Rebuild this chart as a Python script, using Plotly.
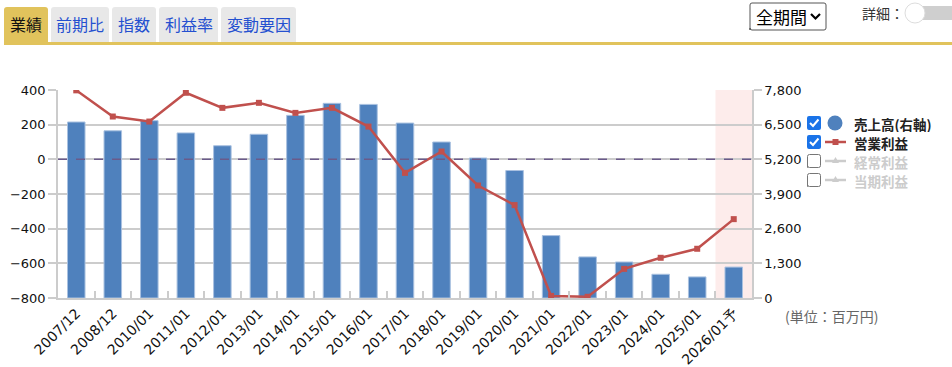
import plotly.graph_objects as go

categories = ["2007/12", "2008/12", "2010/01", "2011/01", "2012/01", "2013/01", "2014/01",
              "2015/01", "2016/01", "2017/01", "2018/01", "2019/01", "2020/01", "2021/01",
              "2022/01", "2023/01", "2024/01", "2025/01", "2026/01予"]
sales = [6600, 6270, 6650, 6190, 5710, 6140, 6850, 7300, 7260, 6560, 5850, 5250, 4780,
         2340, 1540, 1350, 890, 790, 1160]
op_profit = [398, 247, 218, 384, 297, 326, 268, 297, 189, -78, 45, -151, -264, -788,
             -793, -632, -568, -516, -345]
left_ticks = [-800, -600, -400, -200, 0, 200, 400]
right_ticks = [0, 1300, 2600, 3900, 5200, 6500, 7800]
tabs = ["業績", "前期比", "指数", "利益率", "変動要因"]
legend_items = ["売上高(右軸)", "営業利益", "経常利益", "当期利益"]

W, H = 952, 367
PL, PR, PT, PB = 58, 752, 90, 298


def px(x):
    return (x - PL) / (PR - PL)


def py(y):
    return (PB - y) / (PB - PT)


BLUE = "#4f81bd"
RED = "#c0504d"
GRID = "#cccccc"
FONT = "DejaVu Sans"
JP = "Noto Sans CJK JP"

fig = go.Figure()
fig.add_trace(go.Bar(x=categories, y=sales, yaxis="y", width=0.48,
                     marker=dict(color=BLUE, line=dict(color="#a9c1e0", width=1)),
                     showlegend=False, hoverinfo="skip"))
fig.add_trace(go.Scatter(x=categories, y=op_profit, yaxis="y2", mode="lines+markers",
                         line=dict(color=RED, width=2.5),
                         marker=dict(symbol="square", size=6, color=RED),
                         showlegend=False, hoverinfo="skip"))

shapes = []
annotations = []

# forecast shading
shapes.append(dict(type="rect", xref="x", yref="paper", x0=len(categories) - 1.5,
                   x1=len(categories) - 0.5, y0=0, y1=1, fillcolor="#fdeceb",
                   line=dict(width=0), layer="below"))
# zero dashed line
shapes.append(dict(type="line", xref="paper", yref="y2", x0=0, x1=1, y0=0, y1=0,
                   line=dict(color="#6a5a8a", width=1.5, dash="dash"), layer="above"))


def rpath(x0, y0, x1, y1, r=3, top_only=True):
    p = f"M {px(x0)},{py(y1)} L {px(x0)},{py(y0 + r)} Q {px(x0)},{py(y0)} {px(x0 + r)},{py(y0)} " \
        f"L {px(x1 - r)},{py(y0)} Q {px(x1)},{py(y0)} {px(x1)},{py(y0 + r)} "
    if top_only:
        p += f"L {px(x1)},{py(y1)} Z"
    else:
        p += f"L {px(x1)},{py(y1 - r)} Q {px(x1)},{py(y1)} {px(x1 - r)},{py(y1)} " \
             f"L {px(x0 + r)},{py(y1)} Q {px(x0)},{py(y1)} {px(x0)},{py(y1 - r)} Z"
    return p


# tabs
tab_pos = [(4, 48), (51, 109), (112, 156), (159, 218), (221, 296)]
for i, (t, (a, b)) in enumerate(zip(tabs, tab_pos)):
    sel = i == 0
    shapes.append(dict(type="path", xref="paper", yref="paper", path=rpath(a, 7, b, 43, 3),
                       fillcolor="#e1c35c" if sel else "#e8e8e8", line=dict(width=0)))
    annotations.append(dict(xref="paper", yref="paper", x=px((a + b) / 2), y=py(24),
                            text=t, showarrow=False, xanchor="center", yanchor="middle",
                            font=dict(family=JP, size=16, color="#111111" if sel else "#2450d0")))
# gold underline
shapes.append(dict(type="rect", xref="paper", yref="paper", x0=px(4), x1=px(952),
                   y0=py(45), y1=py(42), fillcolor="#e1c35c", line=dict(width=0)))

# select box
shapes.append(dict(type="path", xref="paper", yref="paper", path=rpath(750, 3, 826, 30, 2, False),
                   fillcolor="white", line=dict(color="#555555", width=1)))
annotations.append(dict(xref="paper", yref="paper", x=px(754), y=py(17), text="全期間",
                        showarrow=False, xanchor="left", yanchor="middle",
                        font=dict(family=JP, size=17, color="#000000")))
shapes.append(dict(type="path", xref="paper", yref="paper",
                   path=f"M {px(811)},{py(14)} L {px(815.5)},{py(18.5)} L {px(820)},{py(14)}",
                   line=dict(color="#000000", width=2.2)))

# detail toggle
annotations.append(dict(xref="paper", yref="paper", x=px(860), y=py(13), text="詳細：",
                        showarrow=False, xanchor="left", yanchor="middle",
                        font=dict(family=JP, size=14, color="#333333")))
shapes.append(dict(type="path", xref="paper", yref="paper", path=rpath(908, 6, 958, 20, 7, False),
                   fillcolor="#cfcfcf", line=dict(width=0)))
shapes.append(dict(type="circle", xref="paper", yref="paper", x0=px(905), x1=px(925),
                   y0=py(23), y1=py(3), fillcolor="white", line=dict(color="#dddddd", width=1)))

# legend
leg_y = [123, 142, 161, 180]
for i, (name, yy) in enumerate(zip(legend_items, leg_y)):
    on = i < 2
    if on:
        shapes.append(dict(type="path", xref="paper", yref="paper",
                           path=rpath(807, yy - 7, 821, yy + 7, 2, False),
                           fillcolor="#1a73e8", line=dict(width=0)))
        shapes.append(dict(type="path", xref="paper", yref="paper",
                           path=f"M {px(810)},{py(yy)} L {px(813)},{py(yy + 3)} L {px(818.5)},{py(yy - 3.5)}",
                           line=dict(color="white", width=2)))
    else:
        shapes.append(dict(type="path", xref="paper", yref="paper",
                           path=rpath(807.5, yy - 6.5, 820.5, yy + 6.5, 2, False),
                           fillcolor="white", line=dict(color="#767676", width=1)))
    annotations.append(dict(xref="paper", yref="paper", x=px(852), y=py(yy), text=f"<b>{name}</b>",
                            showarrow=False, xanchor="left", yanchor="middle", height=17,
                            font=dict(family=JP, size=13.5, color="#222222" if on else "#cccccc")))
# legend markers
shapes.append(dict(type="circle", xref="paper", yref="paper", x0=px(827.5), x1=px(842.5),
                   y0=py(leg_y[0] + 7.5), y1=py(leg_y[0] - 7.5), fillcolor=BLUE, line=dict(width=0)))
shapes.append(dict(type="line", xref="paper", yref="paper", x0=px(825), x1=px(846),
                   y0=py(leg_y[1]), y1=py(leg_y[1]), line=dict(color=RED, width=2.5)))
shapes.append(dict(type="rect", xref="paper", yref="paper", x0=px(832.5), x1=px(838.5),
                   y0=py(leg_y[1] + 3), y1=py(leg_y[1] - 3), fillcolor=RED, line=dict(width=0)))
for yy in leg_y[2:]:
    shapes.append(dict(type="line", xref="paper", yref="paper", x0=px(825), x1=px(846),
                       y0=py(yy), y1=py(yy), line=dict(color="#cccccc", width=2.5)))
    shapes.append(dict(type="path", xref="paper", yref="paper",
                       path=f"M {px(832)},{py(yy + 2)} L {px(835.5)},{py(yy - 4)} L {px(839)},{py(yy + 2)} Z",
                       fillcolor="#cccccc", line=dict(width=0)))

# unit
annotations.append(dict(xref="paper", yref="paper", x=px(783), y=py(316), text="(単位：百万円)",
                        showarrow=False, xanchor="left", yanchor="middle",
                        font=dict(family=JP, size=14, color="#666666")))

fig.update_layout(
    width=W, height=H,
    margin=dict(l=PL, r=W - PR, t=PT, b=H - PB, pad=0, autoexpand=False),
    paper_bgcolor="white", plot_bgcolor="rgba(0,0,0,0)",
    bargap=0.5,
    xaxis=dict(type="category", tickangle=-45, tickson="boundaries", ticks="inside",
               ticklen=7, tickcolor=GRID, tickwidth=1.5, showline=True, linecolor=GRID,
               linewidth=1.5, showgrid=False, automargin=False,
               tickfont=dict(family=FONT, size=14, color="#111111"),
               range=[-0.5, len(categories) - 0.5]),
    yaxis=dict(side="right", range=[0, 7800], tickvals=right_ticks,
               ticktext=[f"{v:,}" for v in right_ticks], showgrid=True, gridcolor=GRID,
               gridwidth=1.5, zeroline=False, showline=True, linecolor=GRID, linewidth=1.5,
               ticks="outside", ticklen=8, tickcolor=GRID, tickwidth=1.5, automargin=False,
               tickfont=dict(family=FONT, size=13, color="#111111")),
    yaxis2=dict(side="left", overlaying="y", range=[-800, 400], tickvals=left_ticks,
                showgrid=False, zeroline=False, showline=True, linecolor=GRID, linewidth=1.5,
                ticks="outside", ticklen=8, tickcolor=GRID, tickwidth=1.5, automargin=False,
                tickfont=dict(family=FONT, size=13, color="#111111")),
    shapes=shapes, annotations=annotations,
)

fig.write_html("out.html")
